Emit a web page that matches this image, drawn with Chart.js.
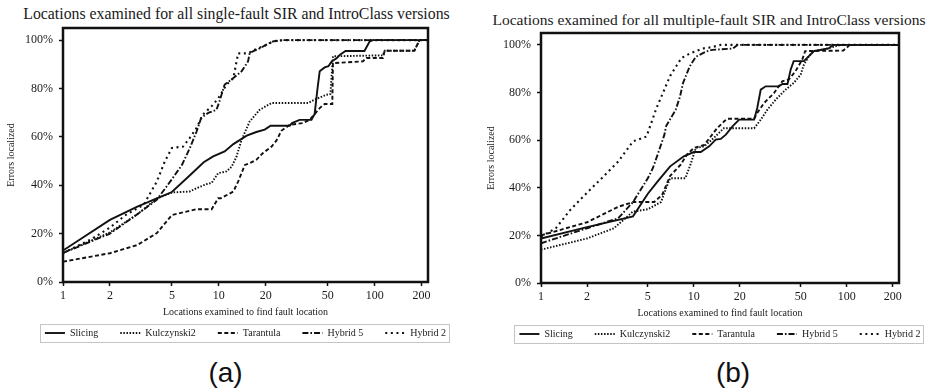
<!DOCTYPE html>
<html>
<head>
<meta charset="utf-8">
<script src="https://cdn.jsdelivr.net/npm/chart.js@4.4.1/dist/chart.umd.min.js"></script>
<style>
html,body{margin:0;padding:0;background:#fff;overflow:hidden;width:935px;height:392px;position:relative;}
.cv{position:absolute;}
.ttl{position:absolute;font-family:'Liberation Serif','Times New Roman',serif;line-height:18px;color:#1a1a1a;white-space:nowrap;text-align:center;width:600px;}
.cap{position:absolute;font-family:'Liberation Sans',Arial,sans-serif;font-size:28px;line-height:32px;color:#111;text-align:center;width:100px;}
</style>
</head>
<body>
<div class="ttl" style="left:-63.5px;top:5px;font-size:15.8px">Locations examined for all single-fault SIR and IntroClass versions</div>
<div class="ttl" style="left:409px;top:10.8px;font-size:15.5px">Locations examined for all multiple-fault SIR and IntroClass versions</div>
<canvas id="cA" class="cv" width="487" height="348" style="left:0;top:0;width:487px;height:348px"></canvas>
<canvas id="cB" class="cv" width="487" height="349" style="left:470px;top:0;width:487px;height:349px"></canvas>
<div class="cap" style="left:175.5px;top:357px">(a)</div>
<div class="cap" style="left:683px;top:357px">(b)</div>
<script>
// ---- tick labels / categories ----
const xTicks = [1, 2, 5, 10, 20, 50, 100, 200];
const yTicks = [0, 20, 40, 60, 80, 100];
const seriesNames = ['Slicing', 'Kulczynski2', 'Tarantula', 'Hybrid 5', 'Hybrid 2'];
const xTitle = 'Locations examined to find fault location';
const yTitle = 'Errors localized';

// ---- (a) single-fault: x = locations examined, y = % errors localized ----
const sSlicingX = [1, 2, 3, 4, 5, 6.5, 8, 9.2, 10.9, 12.4, 15.1, 17.4, 19.7, 21.5, 28.5, 29.5, 33, 39.3, 41.2, 43, 44.4, 47.8, 50.5, 53, 57, 60, 65, 86, 93, 97.5, 220];
const sSlicingY = [13, 25.7, 31.2, 34.6, 37.2, 44, 49.5, 51.9, 54, 57, 60.5, 62, 63, 64.6, 64.6, 65.7, 67, 67, 69.5, 80, 87.1, 88.7, 89.2, 91.2, 92.5, 94, 95.5, 95.5, 99.5, 100, 100];
const sKulczX = [1, 2, 3, 4, 5, 6.5, 7.2, 8.3, 9, 9.9, 11.2, 12.1, 13, 14, 15.8, 18.3, 21.8, 37.4, 41.2, 49, 52, 54, 113, 116, 180, 194, 220];
const sKulczY = [12, 20.5, 28, 34.5, 37, 37.4, 38.8, 40.4, 41, 45, 45.7, 47.7, 51.9, 58.8, 66.4, 71.2, 74, 74, 75.4, 77.4, 77.7, 93.3, 93.7, 95.6, 95.6, 100, 100];
const sTarX = [1, 2, 3, 4, 5, 6.2, 7.2, 9, 9.9, 10.3, 12.4, 13.3, 14.7, 15.8, 17.4, 19.2, 21.8, 23.4, 25.2, 28.5, 34.7, 38.3, 41.2, 44.4, 47.8, 53.5, 54, 84, 88.5, 113, 116, 180, 194, 220];
const sTarY = [8.4, 11.9, 15.3, 20.2, 27.7, 29.1, 30.1, 30.1, 34.6, 34.6, 37.4, 41.5, 48.4, 49.1, 50.5, 53.3, 56, 58.4, 62.5, 65, 65.7, 67.1, 69.4, 71.9, 73.6, 73.6, 90.5, 91.2, 92.6, 92.6, 95.6, 95.6, 100, 100];
const sH5X = [1, 2, 3, 4, 5, 5.8, 6.5, 7.2, 7.7, 8.55, 9.66, 10.1, 10.9, 12.4, 14, 15.4, 15.8, 18.3, 20.2, 22.3, 25.8, 220];
const sH5Y = [12, 20, 28, 34, 42.5, 48.4, 55.2, 62.2, 67.8, 69.9, 71.2, 74.7, 81.6, 84.3, 87.1, 91.2, 94.7, 96.6, 98.1, 99.5, 100, 100];
const sH2X = [1, 1.5, 2, 2.5, 3.3, 4, 4.5, 5, 5.9, 6.5, 7.2, 7.9, 9.2, 10.1, 11.2, 12.4, 13.3, 15.4, 17, 20.2, 22.3, 25.8, 220];
const sH2Y = [12, 17.5, 22.5, 27.5, 32, 41.5, 49.8, 55.4, 56, 59.5, 63.7, 69.2, 73.3, 76.7, 81.6, 84.3, 94.5, 94.5, 96, 98, 99.5, 100, 100];

// ---- (b) multiple-fault ----
const mSlicingX = [1, 2, 4, 5, 5.8, 7, 8.6, 10, 11.1, 12.6, 13.9, 15, 16.2, 17.9, 19.8, 24.8, 26, 27.4, 29.5, 36, 38, 41, 43, 45, 52.5, 56.6, 61, 76, 82, 220];
const mSlicingY = [18.7, 23.5, 28, 37.5, 42.7, 49, 53.2, 55, 55, 57.4, 60.2, 60.5, 62.3, 65.8, 68.6, 68.6, 73.5, 81.2, 82.6, 82.6, 83.6, 83.6, 89.6, 93.2, 93.2, 95.3, 97.4, 98.5, 100, 100];
const mKulczX = [1, 2, 3, 4, 5, 6.1, 6.6, 7, 8.8, 9.5, 10.3, 11.7, 13.5, 15.7, 19.3, 24.8, 27.4, 30.3, 34.3, 39.8, 45, 50, 52.5, 56.6, 61, 71, 91, 220];
const mKulczY = [14, 18.7, 23, 30, 31, 34, 40, 44, 44, 49.7, 56.7, 57.4, 60.9, 65, 65, 65, 68.6, 72.8, 77, 81.2, 84, 87.5, 91.7, 95.3, 97.4, 98.1, 100, 100];
const mTarX = [1, 2, 3.2, 4, 5.5, 6.2, 7, 8.2, 9, 10, 11.7, 14.2, 15.8, 16.6, 24.8, 26, 28.8, 33.5, 37.9, 41.9, 46.3, 51.2, 53.5, 95, 105, 220];
const mTarY = [20, 25.5, 32, 34, 34, 37, 45, 49.7, 53.9, 56.7, 58, 65, 67.9, 69, 69, 71.4, 75.6, 79.8, 84.7, 85.5, 89, 93.8, 97.4, 97.6, 100, 100];
const mH5X = [1, 2, 3.2, 4, 5, 5.4, 5.8, 6.4, 6.6, 7.6, 8.1, 8.5, 9.4, 10.3, 12, 13.2, 18, 19.3, 220];
const mH5Y = [16.7, 23, 27.2, 34, 44, 48.3, 54, 62, 66, 72.7, 78, 84, 91, 95, 97.2, 97.9, 98.5, 100, 100];
const mH2X = [1, 1.25, 1.55, 1.79, 2.08, 2.55, 3.2, 4, 4.9, 5.7, 7, 8.3, 9.5, 11.4, 13, 15, 220];
const mH2Y = [19.5, 23, 30.6, 34.8, 39, 44.6, 51, 59.5, 61.5, 73.5, 87, 94.5, 96.5, 98.5, 99, 100, 100];

Chart.defaults.font.family = "'Liberation Serif', 'Times New Roman', serif";
Chart.defaults.color = '#1a1a1a';

const lineStyles = [
  {dash: [], width: 1.9},
  {dash: [1.5, 1.6], width: 1.9},
  {dash: [4, 2.5], width: 1.9},
  {dash: [6, 2, 1.6, 2], width: 1.9},
  {dash: [2, 3.6], width: 2.1}
];

function pts(xs, ys) { return xs.map((x, i) => ({x: x, y: ys[i]})); }

const framePlugin = {
  id: 'frame',
  afterDraw(chart) {
    const ctx = chart.ctx, a = chart.chartArea;
    ctx.save();
    ctx.setLineDash([]);
    ctx.strokeStyle = '#111';
    ctx.lineWidth = 2.5;
    ctx.strokeRect(a.left, a.top, a.right - a.left, a.bottom - a.top);
    const lg = chart.legend;
    if (lg && lg.legendHitBoxes && lg.legendHitBoxes.length) {
      let l = Infinity, r = -Infinity, t = Infinity, b = -Infinity;
      lg.legendHitBoxes.forEach(h => {
        l = Math.min(l, h.left); r = Math.max(r, h.left + h.width);
        t = Math.min(t, h.top); b = Math.max(b, h.top + h.height);
      });
      ctx.strokeStyle = '#c4c4c4';
      ctx.lineWidth = 1;
      ctx.strokeRect(Math.round(l - 5) + 0.5, Math.round(t - 4) + 0.5, Math.round(r - l + 8), Math.round(b - t + 8));
    }
    ctx.restore();
  }
};

function legendLabels(chart) {
  const items = Chart.defaults.plugins.legend.labels.generateLabels(chart);
  items.forEach(it => {
    const ds = chart.data.datasets[it.datasetIndex];
    it.lineDash = ds.borderDash;
    it.lineWidth = ds.borderWidth;
    it.strokeStyle = ds.borderColor;
    it.lineCap = 'butt';
  });
  return items;
}

function makeChart(id, series, L) {
  const datasets = series.map((s, i) => ({
    label: seriesNames[i],
    data: pts(s[0], s[1]),
    borderColor: '#111',
    backgroundColor: '#111',
    borderWidth: lineStyles[i].width,
    borderDash: lineStyles[i].dash,
    borderCapStyle: 'butt',
    pointRadius: 0,
    tension: 0,
    fill: false,
    xAxisID: 'x',
    yAxisID: 'y'
  }));
  const gridOpts = {display: true, drawOnChartArea: false, drawTicks: true, tickLength: 4, tickColor: '#111', tickWidth: 1.5};
  return new Chart(document.getElementById(id), {
    type: 'line',
    data: {datasets: datasets},
    plugins: [framePlugin],
    options: {
      responsive: false,
      animation: false,
      devicePixelRatio: 1,
      layout: {padding: {left: L.padLeft, right: 0, top: L.padTop, bottom: 0}},
      scales: {
        x: {
          type: 'logarithmic', position: 'bottom', min: 1, max: 220,
          afterBuildTicks: s => { s.ticks = xTicks.map(v => ({value: v})); },
          ticks: {autoSkip: false, maxRotation: 0, minRotation: 0, padding: 3, font: {size: 12}, color: '#1a1a1a', callback: v => String(v)},
          grid: gridOpts,
          border: {display: false},
          title: {display: true, text: xTitle, font: {size: 10}, color: '#1a1a1a', padding: {top: 0, bottom: -12.4}}
        },
        y: {
          type: 'linear', position: 'left', min: 0, max: 105,
          afterBuildTicks: s => { s.ticks = yTicks.map(v => ({value: v})); },
          afterFit: s => { s.width = L.yW; },
          ticks: {padding: 6, font: {size: 12}, color: '#1a1a1a', callback: v => v + '%'},
          grid: gridOpts,
          border: {display: false},
          title: {display: true, text: yTitle, font: {size: 10}, color: '#1a1a1a', padding: {top: L.yTitlePad, bottom: 0}}
        },
        y2: {
          type: 'linear', position: 'right', display: true,
          afterFit: s => { s.width = L.yW; },
          ticks: {display: false},
          grid: {display: false, drawTicks: false},
          border: {display: false}
        }
      },
      plugins: {
        legend: {
          position: 'bottom',
          labels: {usePointStyle: true, pointStyle: 'line', pointStyleWidth: 20, padding: 22, font: {size: 10}, color: '#1a1a1a', generateLabels: legendLabels}
        },
        tooltip: {enabled: false}
      }
    }
  });
}

makeChart('cA', [
  [sSlicingX, sSlicingY], [sKulczX, sKulczY], [sTarX, sTarY], [sH5X, sH5Y], [sH2X, sH2Y]
], {padLeft: 4, padTop: 28, yW: 59, yTitlePad: 1.7});

makeChart('cB', [
  [mSlicingX, mSlicingY], [mKulczX, mKulczY], [mTarX, mTarY], [mH5X, mH5Y], [mH2X, mH2Y]
], {padLeft: 13, padTop: 33, yW: 58, yTitlePad: 2});
</script>
</body>
</html>
